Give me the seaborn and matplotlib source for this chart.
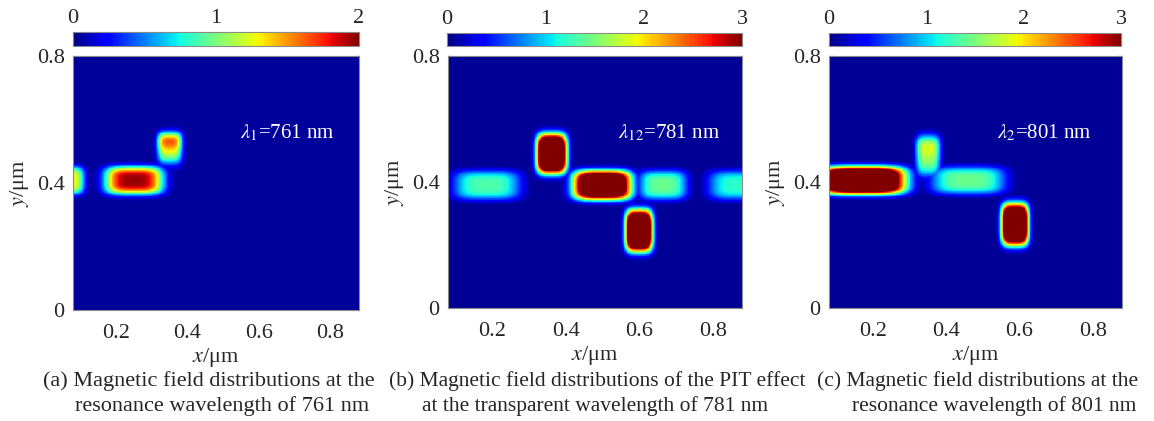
import numpy as np
import pandas as pd
import matplotlib
matplotlib.use("Agg")
import matplotlib.pyplot as plt
import seaborn as sns

sns.set_style("white")
plt.rcParams["font.family"] = ["Liberation Serif", "DejaVu Serif"]
plt.rcParams["mathtext.fontset"] = "stix"

# ---------------- axis / colour-bar definitions ----------------
x_range = [0.08, 0.88]
y_range = [0.0, 0.8]
x_ticks = [0.2, 0.4, 0.6, 0.8]
x_ticklabels = ["0.2", "0.4", "0.6", "0.8"]
y_ticks = [0.0, 0.2, 0.4, 0.6, 0.8]
y_ticklabels = ["0", "", "0.4", "", "0.8"]

vmax_list = [2, 3, 3]
cbar_ticks_a = [0, 0.5, 1, 1.5, 2]
cbar_labels_a = ["0", "", "1", "", "2"]
cbar_ticks_bc = [0, 0.5, 1, 1.5, 2, 2.5, 3]
cbar_labels_bc = ["0", "", "1", "", "2", "", "3"]

annotations = [r"$\lambda_1$=761 nm", r"$\lambda_{12}$=781 nm", r"$\lambda_2$=801 nm"]
captions = [
    ["(a) Magnetic field distributions at the", "resonance wavelength of 761 nm"],
    ["(b) Magnetic field distributions of the PIT effect", "at the transparent wavelength of 781 nm"],
    ["(c) Magnetic field distributions at the", "resonance wavelength of 801 nm"],
]

# ---------------- field hot spots ----------------
# (x centre, y centre, half width, half height, peak |H|, top-to-bottom fall-off)
a_cx = [0.065, 0.250, 0.350]
a_cy = [0.408, 0.408, 0.505]
a_hx = [0.045, 0.080, 0.034]
a_hy = [0.043, 0.043, 0.052]
a_peak = [1.25, 1.85, 2.00]
a_tilt = [0.0, 0.0, 0.75]
a_background = 0.05

b_cx = [0.185, 0.500, 0.665, 0.875, 0.362, 0.600]
b_cy = [0.390, 0.390, 0.390, 0.390, 0.490, 0.245]
b_hx = [0.090, 0.078, 0.065, 0.085, 0.040, 0.036]
b_hy = [0.046, 0.046, 0.046, 0.046, 0.062, 0.065]
b_peak = [1.25, 4.50, 1.35, 1.15, 5.00, 5.00]
b_tilt = [0.0, 0.0, 0.0, 0.0, 0.0, 0.0]
b_background = 0.07

c_cx = [0.170, 0.460, 0.350, 0.588]
c_cy = [0.405, 0.405, 0.480, 0.265]
c_hx = [0.115, 0.100, 0.033, 0.036]
c_hy = [0.043, 0.043, 0.065, 0.065]
c_peak = [5.00, 1.35, 2.10, 5.00]
c_tilt = [0.0, 0.0, 0.50, 0.0]
c_background = 0.07

panels = [
    (a_cx, a_cy, a_hx, a_hy, a_peak, a_tilt, a_background),
    (b_cx, b_cy, b_hx, b_hy, b_peak, b_tilt, b_background),
    (c_cx, c_cy, c_hx, c_hy, c_peak, c_tilt, c_background),
]

NX, NY = 400, 400
xg = np.linspace(x_range[0], x_range[1], NX)
yg = np.linspace(y_range[0], y_range[1], NY)
XX, YY = np.meshgrid(xg, yg)


def build_field(cx, cy, hx, hy, peak, tilt, bg, p=4):
    f = np.full_like(XX, bg)
    for x0, y0, wx, wy, pk, tl in zip(cx, cy, hx, hy, peak, tilt):
        dx = (XX - x0) / wx
        dy = (YY - y0) / wy
        shape = np.exp(-(np.abs(dx) ** p) - (np.abs(dy) ** p))
        halo = 0.06 * np.exp(-(np.abs(dx / 1.5) ** 2) - (np.abs(dy / 1.6) ** 2))
        ramp = 1 + tl * (np.clip(dy, -1, 1) - 1) / 2
        f = np.maximum(f, pk * shape * ramp + halo * min(pk, 2))
    return f


def xpos(v):
    return (np.asarray(v) - x_range[0]) / (x_range[1] - x_range[0]) * NX


def ypos(v):
    return (y_range[1] - np.asarray(v)) / (y_range[1] - y_range[0]) * NY


W, H = 1154, 421
fig = plt.figure(figsize=(W / 100, H / 100), dpi=100)

ax_px = [(73, 359, 56, 310), (448, 742, 56, 308), (829, 1122, 56, 308)]
cb_px = [(73, 359, 32, 46), (447, 742, 33, 46), (829, 1121, 33, 46)]
ann_px = [(240, 133), (618, 133), (997, 133)]
cap_px = [((209, 381), (222, 406)), ((597, 381), (595, 406)), ((978, 381), (994, 406))]
cap_size = [16, 15.5, 15.5]

for i in range(3):
    l, r, t, b = ax_px[i]
    ax = fig.add_axes([l / W, (H - b) / H, (r - l) / W, (b - t) / H])
    l, r, t, b = cb_px[i]
    cax = fig.add_axes([l / W, (H - b) / H, (r - l) / W, (b - t) / H])

    field = build_field(*panels[i])
    df = pd.DataFrame(field[::-1], index=yg[::-1], columns=xg)
    cticks = cbar_ticks_a if i == 0 else cbar_ticks_bc
    clabels = cbar_labels_a if i == 0 else cbar_labels_bc
    sns.heatmap(df, ax=ax, cmap="jet", vmin=0, vmax=vmax_list[i], cbar_ax=cax,
                cbar_kws={"orientation": "horizontal", "ticks": cticks},
                xticklabels=False, yticklabels=False, rasterized=True)

    ax.set_xticks(xpos(x_ticks))
    ax.set_xticklabels(x_ticklabels)
    ax.set_yticks(ypos(y_ticks))
    ax.set_yticklabels(y_ticklabels, rotation=0)
    for s in ax.spines.values():
        s.set_visible(True)
        s.set_color("#8a8a8a")
        s.set_linewidth(0.8)
    ax.tick_params(direction="in", top=True, right=True, bottom=True, left=True,
                   length=4, width=0.8, color="#333333", labelsize=16, pad=6)
    ax.tick_params(axis="x", pad=10)
    ax.set_xlabel(r"$x$/μm", fontsize=16, labelpad=2)
    ax.set_ylabel(r"$y$/μm", fontsize=16, labelpad=4)

    cb = ax.collections[0].colorbar
    cb.outline.set_visible(True)
    cb.outline.set_linewidth(0.8)
    cb.outline.set_edgecolor("#8a8a8a")
    cax.xaxis.set_ticks_position("both")
    cax.set_xticks(cticks)
    cax.set_xticklabels(clabels)
    cax.tick_params(axis="x", direction="in", length=3, width=0.8, color="#333333",
                    labeltop=True, labelbottom=False, labelsize=16, pad=3)

    axl, axr, axt, axb = ax_px[i]
    ax_x, ax_y = ann_px[i]
    ax.text((ax_x - axl) / (axr - axl), (axb - ax_y) / (axb - axt), annotations[i],
            transform=ax.transAxes, color="white", fontsize=15, ha="left", va="center")

    for (cxp, cyp), line in zip(cap_px[i], captions[i]):
        fig.text(cxp / W, (H - cyp) / H, line, fontsize=cap_size[i], ha="center", va="center")

fig.savefig("out.png", dpi=100)
